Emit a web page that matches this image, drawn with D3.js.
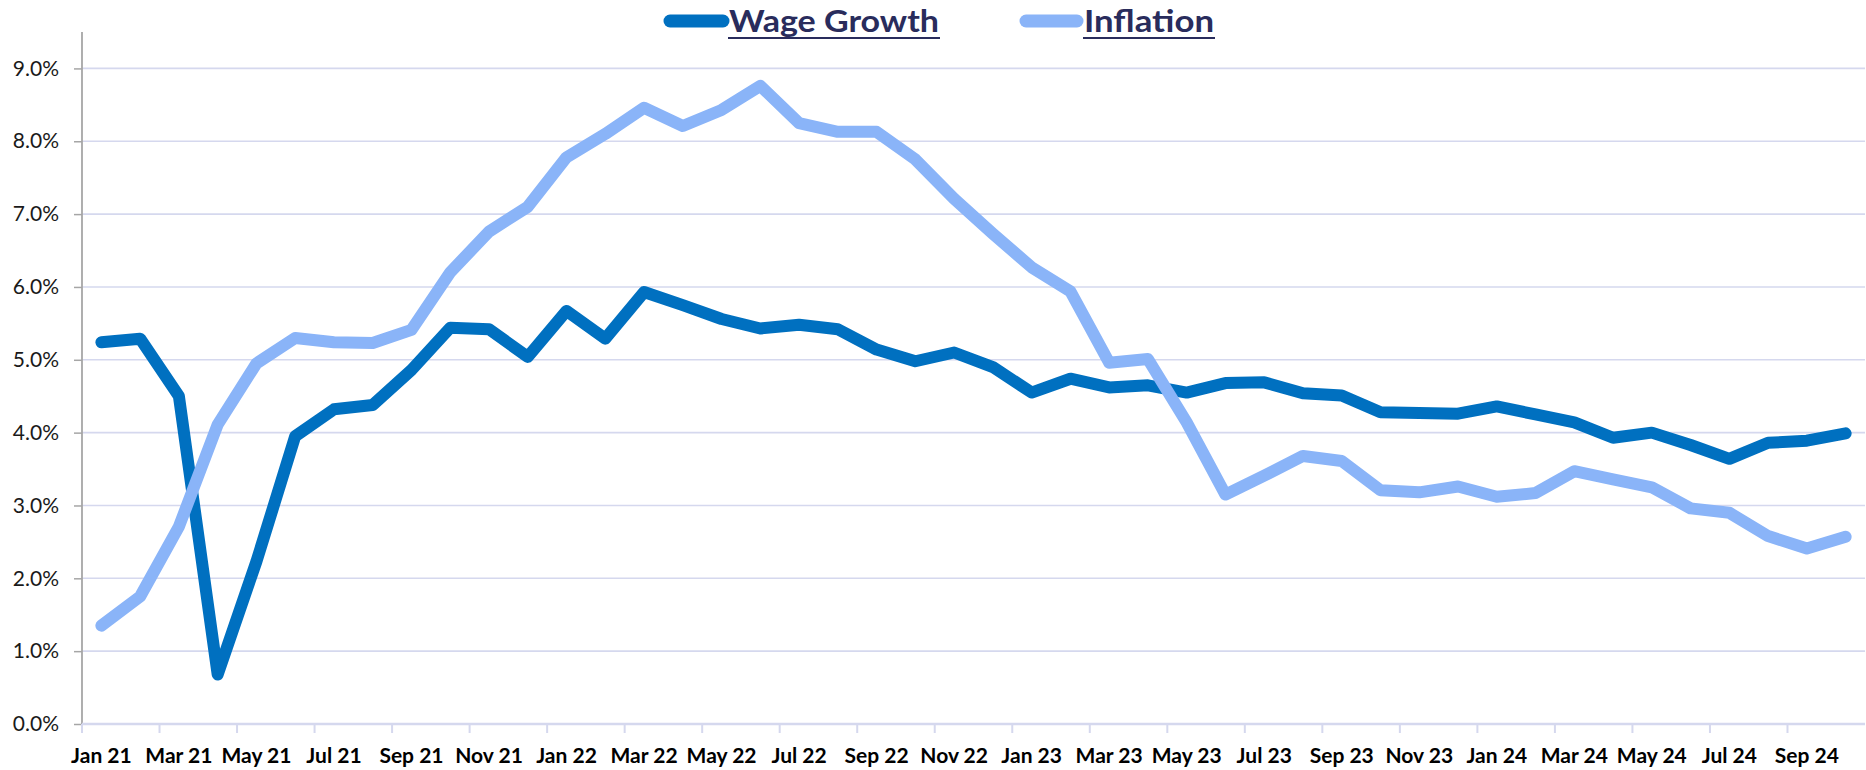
<!DOCTYPE html>
<html>
<head>
<meta charset="utf-8">
<script src="https://cdn.jsdelivr.net/npm/d3@7"></script>
<style>
  html, body { margin: 0; padding: 0; background: #ffffff; }
  svg { display: block; }
</style>
</head>
<body>
<div id="chart"></div>
<script>
// ---- Data ----
const months = [
  "Jan 21","Feb 21","Mar 21","Apr 21","May 21","Jun 21","Jul 21","Aug 21","Sep 21","Oct 21","Nov 21","Dec 21",
  "Jan 22","Feb 22","Mar 22","Apr 22","May 22","Jun 22","Jul 22","Aug 22","Sep 22","Oct 22","Nov 22","Dec 22",
  "Jan 23","Feb 23","Mar 23","Apr 23","May 23","Jun 23","Jul 23","Aug 23","Sep 23","Oct 23","Nov 23","Dec 23",
  "Jan 24","Feb 24","Mar 24","Apr 24","May 24","Jun 24","Jul 24","Aug 24","Sep 24","Oct 24"
];
const wageGrowth = [
  5.24, 5.29, 4.50, 0.68, 2.23, 3.95, 4.32, 4.38, 4.86, 5.44, 5.42, 5.04,
  5.67, 5.29, 5.93, 5.75, 5.56, 5.43, 5.48, 5.42, 5.14, 4.98, 5.10, 4.90,
  4.55, 4.74, 4.62, 4.65, 4.55, 4.68, 4.69, 4.54, 4.51, 4.28, 4.27, 4.26,
  4.36, 4.25, 4.14, 3.93, 4.00, 3.83, 3.64, 3.86, 3.89, 3.99
];
const inflation = [
  1.35, 1.75, 2.71, 4.11, 4.95, 5.30, 5.24, 5.23, 5.41, 6.20, 6.76, 7.10,
  7.78, 8.10, 8.46, 8.21, 8.43, 8.76, 8.25, 8.13, 8.13, 7.75, 7.21, 6.73,
  6.27, 5.94, 4.96, 5.01, 4.14, 3.15, 3.41, 3.68, 3.61, 3.21, 3.18, 3.26,
  3.12, 3.17, 3.47, 3.36, 3.25, 2.96, 2.90, 2.58, 2.41, 2.57
];
const yTicks = [0, 0.01, 0.02, 0.03, 0.04, 0.05, 0.06, 0.07, 0.08, 0.09];
const seriesNames = ["Wage Growth", "Inflation"];
const seriesColors = ["#0070C0", "#8AB4F8"];

// ---- Layout ----
const W = 1866, H = 770;
const plotLeft = 82, plotRight = 1865, plotBottom = 724, plotTop = 32;

const svg = d3.select("#chart").append("svg").attr("width", W).attr("height", H);

const xBand = d3.scaleBand().domain(months).range([plotLeft, plotRight]).padding(0);
const xc = m => xBand(m) + xBand.bandwidth() / 2;
const y = d3.scaleLinear().domain([0, 0.095]).range([plotBottom, plotTop]);

// Gridlines
svg.append("g")
  .selectAll("line").data(yTicks.filter(t => t > 0)).join("line")
  .attr("x1", plotLeft).attr("x2", plotRight)
  .attr("y1", d => y(d)).attr("y2", d => y(d))
  .attr("stroke", "#d5d8ee").attr("stroke-width", 1.6);

// Y axis
const yAxis = svg.append("g").attr("transform", `translate(${plotLeft},0)`)
  .call(d3.axisLeft(y).tickValues(yTicks).tickFormat(d3.format(".1%")).tickSize(8).tickPadding(15));
yAxis.select(".domain").remove();
yAxis.selectAll(".tick line").attr("stroke", "#a6a6a6").attr("stroke-width", 1.5);
yAxis.selectAll("text")
  .attr("font-family", "Lato, 'Open Sans', sans-serif")
  .attr("font-size", 21).attr("fill", "#1a1a1a");
svg.append("line").attr("x1", plotLeft).attr("x2", plotLeft).attr("y1", plotTop).attr("y2", plotBottom)
  .attr("stroke", "#a6a6a6").attr("stroke-width", 1.8);

// X axis baseline
svg.append("line").attr("x1", plotLeft).attr("x2", plotRight).attr("y1", plotBottom).attr("y2", plotBottom)
  .attr("stroke", "#d5d8ee").attr("stroke-width", 2.4);

// X tick marks at category boundaries, every 2 categories
svg.append("g").selectAll("line")
  .data(months.filter((m, i) => i % 2 === 0)).join("line")
  .attr("x1", d => xBand(d)).attr("x2", d => xBand(d))
  .attr("y1", plotBottom).attr("y2", plotBottom + 9)
  .attr("stroke", "#d5d8ee").attr("stroke-width", 2);

// X labels
const xAxis = svg.append("g").attr("transform", `translate(0,${plotBottom})`)
  .call(d3.axisBottom(xBand).tickValues(months.filter((m, i) => i % 2 === 0)).tickSize(0).tickPadding(24));
xAxis.select(".domain").remove();
xAxis.selectAll("text")
  .attr("font-family", "Lato, 'Open Sans', sans-serif")
  .attr("font-weight", "bold").attr("font-size", 21).attr("fill", "#000");

// Lines
const series = [wageGrowth, inflation];
const line = d3.line().x((d, i) => xc(months[i])).y(d => y(d / 100));
series.forEach((vals, si) => {
  svg.append("path").datum(vals)
    .attr("d", line)
    .attr("fill", "none")
    .attr("stroke", seriesColors[si])
    .attr("stroke-width", 12)
    .attr("stroke-linejoin", "round")
    .attr("stroke-linecap", "round");
});

// Legend
const legendItems = [
  { name: seriesNames[0], color: seriesColors[0], mx1: 670, mx2: 723, tx: 729, tw: 210 },
  { name: seriesNames[1], color: seriesColors[1], mx1: 1026, mx2: 1077, tx: 1084, tw: 130 }
];
legendItems.forEach(it => {
  svg.append("line").attr("x1", it.mx1).attr("x2", it.mx2).attr("y1", 21).attr("y2", 21)
    .attr("stroke", it.color).attr("stroke-width", 13).attr("stroke-linecap", "round");
  svg.append("text").attr("x", it.tx).attr("y", 31.5)
    .attr("font-family", "Lato, 'Open Sans', sans-serif")
    .attr("font-weight", "bold").attr("font-size", 30).attr("fill", "#292c5c")
    .attr("textLength", it.tw).attr("lengthAdjust", "spacingAndGlyphs")
    .text(it.name);
  svg.append("line").attr("x1", it.tx - 1).attr("x2", it.tx + it.tw + 1).attr("y1", 38).attr("y2", 38)
    .attr("stroke", "#292c5c").attr("stroke-width", 2.2);
});
</script>
</body>
</html>
